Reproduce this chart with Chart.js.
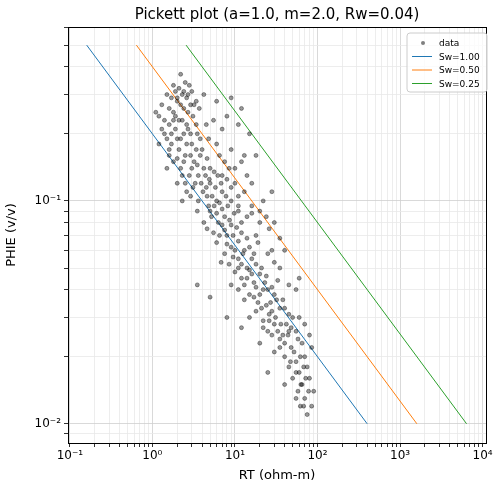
<!DOCTYPE html>
<html><head><meta charset="utf-8">
<script src="https://cdn.jsdelivr.net/npm/chart.js@4/dist/chart.umd.min.js"></script>
<style>body{margin:0;background:#fff}</style></head>
<body><canvas id="c" width="502" height="495"></canvas>
<script>
const dataPts = [
[2.2,0.37],[2.5,0.34],[2.8,0.33],[1.9,0.31],[2.3,0.30],[3.0,0.31],[1.7,0.29],[2.6,0.29],[3.4,0.28],[2.0,0.28],[1.5,0.30],[2.9,0.27],[4.2,0.30],[1.3,0.27],[3.7,0.26],[2.4,0.26],[6,0.28],[9,0.29],[1.1,0.25],[1.8,0.25],
[1.2,0.24],[2.1,0.23],[3.1,0.24],[4.5,0.22],[1.6,0.22],[2.7,0.21],[5.5,0.23],[1.4,0.20],[3.5,0.20],[7,0.21],[2.2,0.19],[4.8,0.19],[8,0.24],[11,0.22],[1.9,0.21],[6,0.18],[3.0,0.18],[1.7,0.18],[12,0.26],[15,0.2],
[1.6,0.17],[2.5,0.16],[4,0.17],[6.5,0.16],[9,0.17],[1.8,0.15],[3.2,0.15],[5,0.14],[7.5,0.15],[12,0.15],[2.2,0.14],[3.8,0.16],[14,0.13],[2.8,0.13],[4.4,0.13],[8.5,0.14],[1.5,0.14],[18,0.16],
[2,0.12],[3.3,0.12],[5,0.12],[7,0.11],[10,0.12],[2.6,0.11],[4.1,0.11],[6,0.10],[9,0.10],[13,0.11],[3.6,0.10],[5.3,0.105],[16,0.12],[22,0.1],[2.3,0.1],[8,0.125],[11,0.095],[28,0.11],
[3.5,0.09],[5,0.09],[7.5,0.085],[11,0.09],[4.2,0.08],[6.3,0.08],[9,0.078],[14,0.085],[20,0.08],[5.5,0.072],[8,0.07],[12,0.072],[4.6,0.075],[18,0.07],[26,0.075],[35,0.068],[7,0.092],[16,0.088],
[6,0.065],[9,0.062],[13,0.06],[19,0.065],[7.5,0.058],[11,0.055],[16,0.055],[25,0.058],[8.5,0.052],[14,0.05],[21,0.05],[30,0.053],[40,0.06],[10,0.048],[6.8,0.053],[35,0.05],
[12,0.045],[17,0.043],[24,0.046],[33,0.044],[11,0.04],[15,0.038],[22,0.04],[30,0.038],[45,0.042],[13,0.036],[19,0.035],[27,0.035],[38,0.036],[55,0.04],[9,0.042],[16,0.047],[60,0.045],[5,0.037],[3.5,0.042],
[18,0.032],[26,0.031],[35,0.033],[50,0.03],[22,0.029],[30,0.028],[42,0.028],[60,0.03],[25,0.026],[38,0.025],[55,0.026],[70,0.028],[15,0.03],[80,0.025],[12,0.027],[8,0.03],
[35,0.024],[48,0.022],[65,0.023],[40,0.02],[55,0.019],[70,0.02],[85,0.022],[30,0.021],[60,0.017],[75,0.018],[45,0.018],[25,0.017],[20,0.023],
[50,0.016],[65,0.015],[80,0.016],[58,0.014],[70,0.013],[90,0.014],[62,0.012],[75,0.011],[55,0.013],[40,0.015],[85,0.012],
[1.8,0.33],[2.1,0.32],[2.4,0.31],[2.7,0.30],[2.0,0.29],[2.2,0.27],[1.6,0.26],[2.7,0.25],[3.2,0.27],[1.9,0.24],[2.3,0.23],[2.6,0.22],[1.8,0.23],[3.4,0.22],[2.9,0.20],[2.4,0.20],[2.0,0.19],[3.8,0.19],[2.6,0.18],[3.4,0.17],
[2.1,0.17],[2.9,0.16],[3.5,0.145],[2.4,0.15],[4.6,0.155],[4.2,0.14],[3.0,0.14],[5.6,0.135],[3.6,0.13],[4.9,0.125],[6.2,0.13],[3.9,0.12],[4.5,0.115],[5.8,0.115],[6.8,0.12],[3.1,0.115],[7.8,0.105],[4.6,0.105],[6.5,0.098],[5.6,0.095],
[8.2,0.095],[4.8,0.095],[6.0,0.088],[9.8,0.088],[5.2,0.085],[8.6,0.082],[7.0,0.078],[10.5,0.076],[12,0.08],[7.5,0.074],[9.5,0.07],[6.5,0.07],[11,0.066],[14,0.068],[8,0.064],[10,0.06],[12.5,0.058],[15,0.062],[9.5,0.056],[17,0.058],
[12,0.052],[18,0.052],[15,0.049],[11,0.05],[20,0.047],[14,0.045],[18,0.041],[23,0.043],[13,0.042],[25,0.04],[20,0.038],[28,0.041],[17,0.037],[24,0.034],[32,0.036],[21,0.033],[28,0.032],[40,0.033],[31,0.03],[45,0.031],
[26,0.029],[36,0.028],[48,0.027],[33,0.026],[44,0.025],[58,0.024],[40,0.023],[52,0.021],[62,0.02],[47,0.019],[68,0.018],[55,0.017],[72,0.016],[63,0.015],[78,0.014],[68,0.012],[45,0.026],[35,0.022],[28,0.025],[22,0.027],
[1.4,0.23],[1.3,0.21],[1.5,0.19],[1.7,0.2],[1.2,0.18],[1.6,0.16],[2.0,0.155],[2.3,0.13],[2.5,0.12],[2.9,0.105],[10,0.14],[13,0.16],[7,0.13],[9,0.115],[11,0.105],[16,0.095],[20,0.09],[24,0.085],[30,0.08],[28,0.06]
];
const lineRT = { sw100:[0.16,400], sw050:[0.64,1600], sw025:[2.56,6400] };
const linePhi = [0.5,0.01];
const seriesLabels = ['data','Sw=1.00','Sw=0.50','Sw=0.25'];
const colors = ['rgba(0,0,0,0.4)','#1f77b4','#ff7f0e','#2ca02c'];
const xDecades = [-2,-1,0,1,2,3,4];
const yDecades = [-3,-2,-1,0];
const sup = {'-':'\u207B','0':'\u2070','1':'\u00B9','2':'\u00B2','3':'\u00B3','4':'\u2074'};
function decLabel(e){return '10'+String(e).split('').map(c=>sup[c]).join('');}
function buildTicks(scale,decs){const t=[];for(const e of decs){for(let m=1;m<=9;m++){const v=m*Math.pow(10,e);if(v>=scale.min&&v<=scale.max)t.push({value:v,major:m===1,label:m===1?decLabel(e):''});}}scale.ticks=t;}
const frame={id:'frame',afterDraw(ch){const c=ch.ctx,a=ch.chartArea;c.save();c.strokeStyle='#000';c.lineWidth=1;c.strokeRect(a.left+0.5,a.top+0.5,a.right-a.left,a.bottom-a.top);
c.fillStyle='#000';c.font='15px "DejaVu Sans"';c.textAlign='center';c.textBaseline='middle';c.fillText('Pickett plot (a=1.0, m=2.0, Rw=0.04)',(a.left+a.right)/2,15);
const lx=407,ly=33,lw=80,lh=59;c.fillStyle='rgba(255,255,255,0.8)';c.strokeStyle='#ccc';c.beginPath();c.roundRect(lx,ly,lw,lh,3);c.fill();c.stroke();
c.font='9px "DejaVu Sans"';c.textAlign='left';
for(let i=0;i<4;i++){const y=ly+10+i*13.5;
 if(i===0){c.fillStyle='rgba(0,0,0,0.5)';c.beginPath();c.arc(lx+16,y,2,0,Math.PI*2);c.fill();}
 else{c.strokeStyle=colors[i];c.beginPath();c.moveTo(lx+5,y);c.lineTo(lx+25,y);c.stroke();}
 c.fillStyle='#000';c.fillText(seriesLabels[i],lx+32,y+1);}
c.restore();}};
function mkLine(k,i){return {type:'line',label:seriesLabels[i],data:lineRT[k].map((x,j)=>({x,y:linePhi[j]})),borderColor:colors[i],borderWidth:1,pointRadius:0,fill:false};}
const gridCfg={color:ctx=>ctx.tick&&ctx.tick.major?'#cfcfcf':'#e8e8e8',lineWidth:0.8,tickColor:'#000',tickLength:4};
new Chart(document.getElementById('c'),{
 data:{datasets:[{type:'scatter',label:'data',data:dataPts.map(p=>({x:p[0],y:p[1]})),backgroundColor:'rgba(0,0,0,0.4)',borderColor:'rgba(0,0,0,0.6)',borderWidth:0.6,pointRadius:2},
  mkLine('sw100',1),mkLine('sw050',2),mkLine('sw025',3)]},
 options:{responsive:false,animation:false,layout:{padding:{top:27,right:16,left:0,bottom:0}},
  plugins:{legend:{display:false},title:{display:false},tooltip:{enabled:false}},
  scales:{
   x:{type:'logarithmic',min:0.095,max:11000,afterBuildTicks:s=>buildTicks(s,xDecades),afterFit(s){s.height=52;},grid:gridCfg,border:{color:'#000'},
      ticks:{autoSkip:false,maxRotation:0,color:'#000',padding:2,font:{family:'DejaVu Sans',size:12},callback:function(v,i,t){return t[i].label;}},
      title:{display:true,text:'RT (ohm-m)',color:'#000',font:{family:'DejaVu Sans',size:13},padding:{top:2,bottom:12}}},
   y:{type:'logarithmic',min:0.0082,max:0.603,afterBuildTicks:s=>buildTicks(s,yDecades),afterFit(s){s.width=68;},grid:gridCfg,border:{color:'#000'},
      ticks:{autoSkip:false,color:'#000',font:{family:'DejaVu Sans',size:12},callback:function(v,i,t){return t[i].label;}},
      title:{display:true,text:'PHIE (v/v)',color:'#000',font:{family:'DejaVu Sans',size:13}}}
  }},
 plugins:[frame]});
</script></body></html>
